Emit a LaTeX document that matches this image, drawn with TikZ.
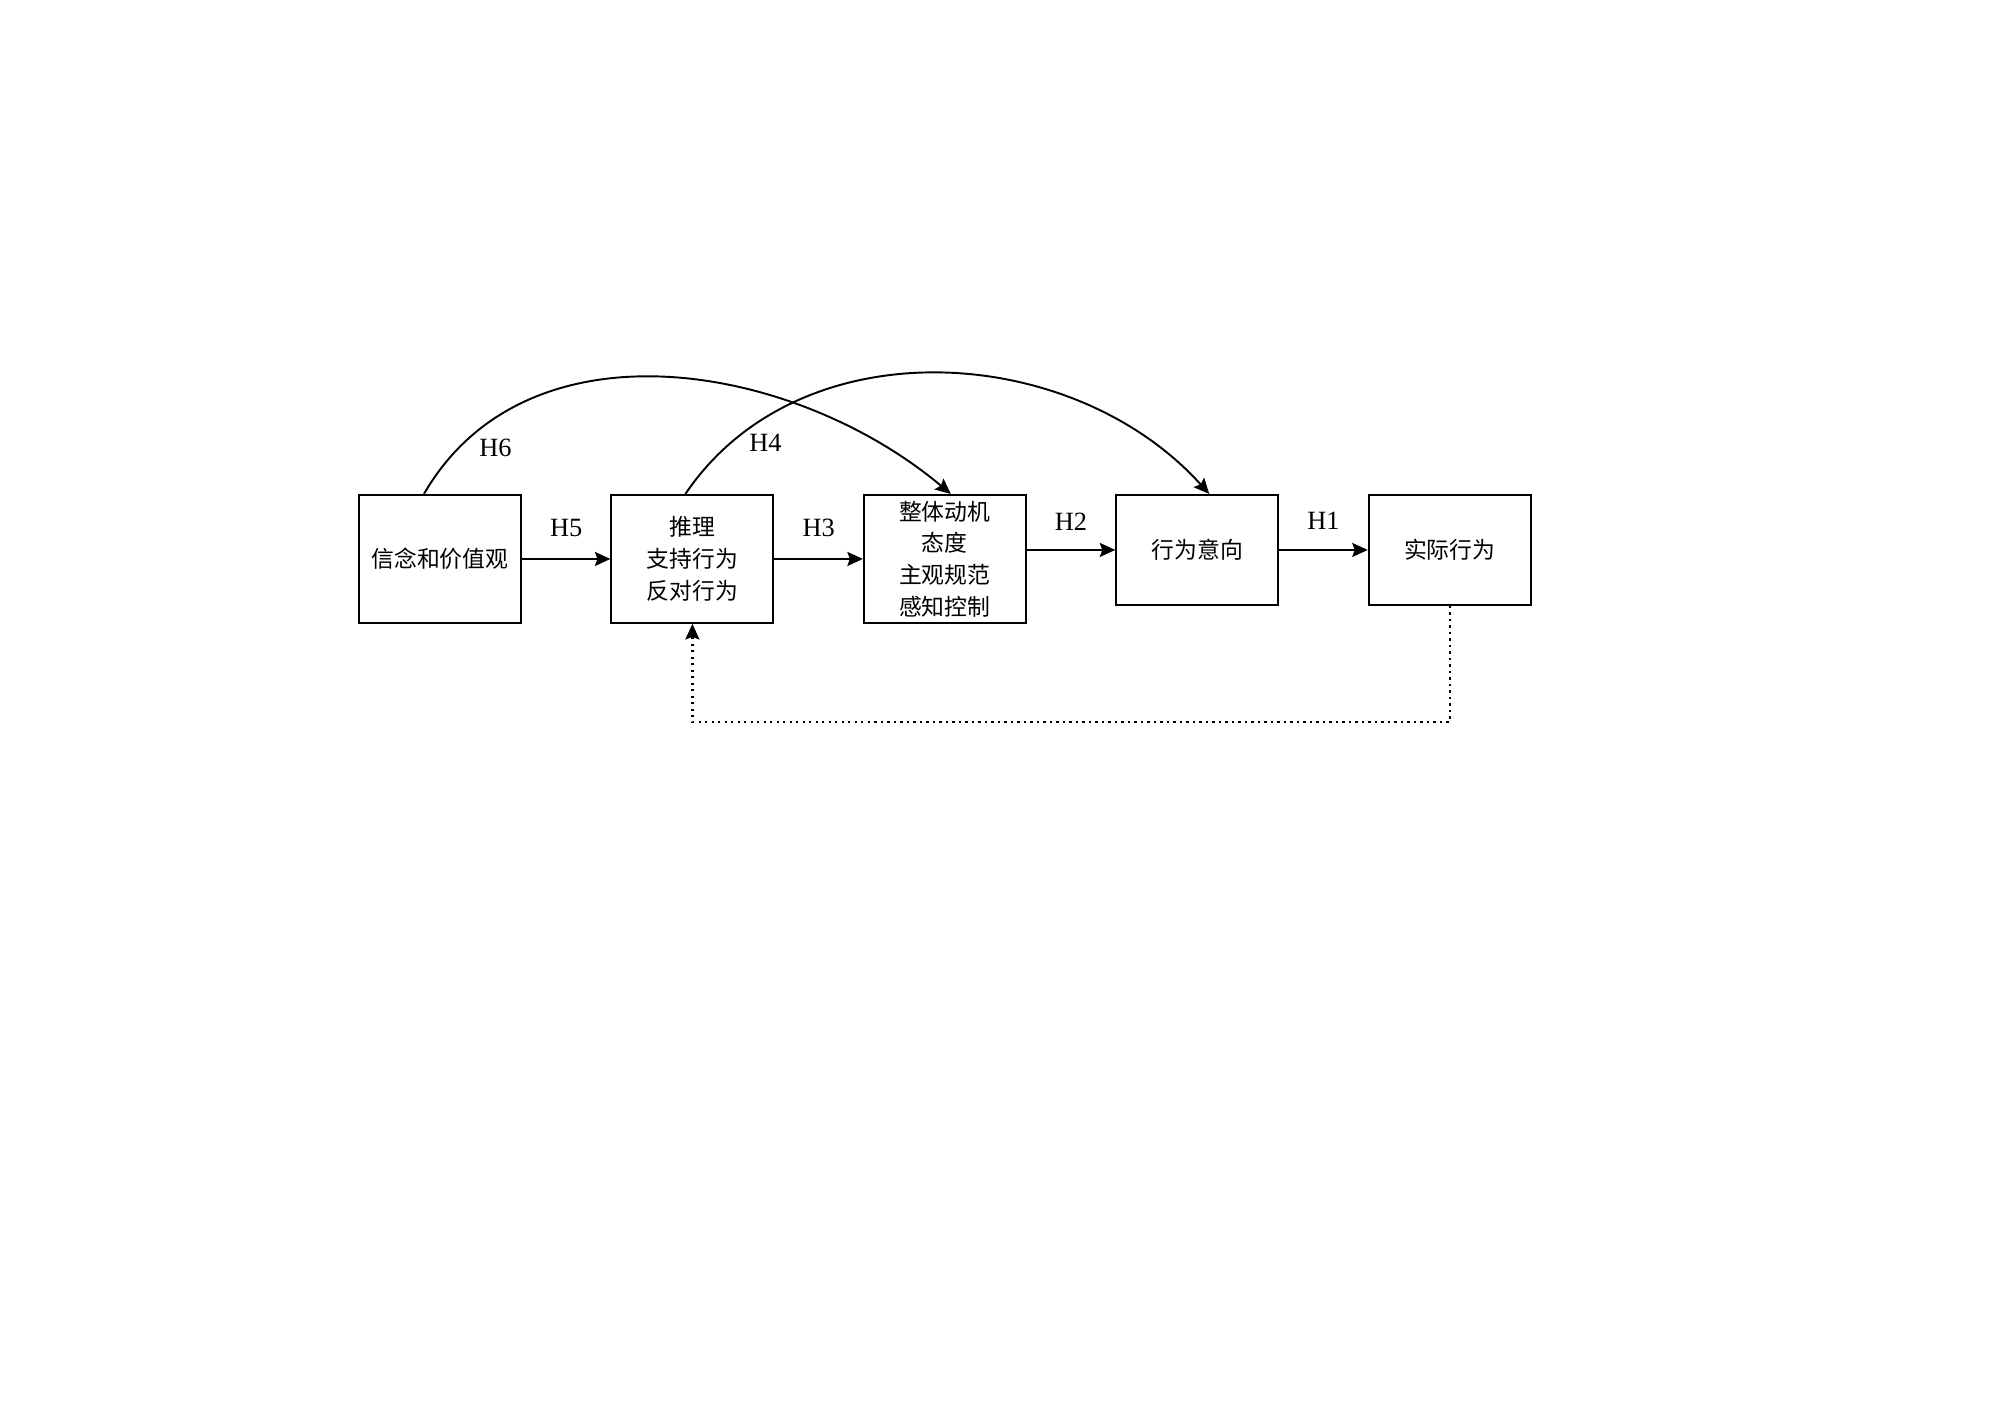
\documentclass[tikz,border=0pt]{standalone}
\usepackage{fontspec}
\setmainfont{Liberation Serif}
\newfontfamily\cjk{Noto Sans CJK SC}
\usepackage{tikz}
\usetikzlibrary{arrows.meta, positioning}

\begin{document}
\begin{tikzpicture}[node distance=1.77cm, font=\fontsize{15}{18}\selectfont]
\tikzstyle{stage} = [rectangle, draw=black, line width=1.1pt, minimum width=3.24cm, minimum height=2.56cm, align=center, inner sep=2pt, font=\cjk\fontsize{13}{18}\selectfont]
\tikzstyle{line} = [draw, -{Stealth[length=3.1mm,width=2.8mm,inset=0.5mm]}, line width=1.1pt, black]
\tikzstyle{feedback} = [line, line width=1.3pt, dash pattern=on 1.3pt off 2.4pt]
\useasboundingbox (0,0) rectangle (40,28.26);

\node (belief) [stage, anchor=north west] at (7.16,18.38) {信念和价值观};
\node (reason) [stage, right=of belief] {推理\\支持行为\\反对行为};
\node (motive) [stage, right=of reason] {整体动机\\态度\\主观规范\\感知控制};
\node (intent) [stage, minimum height=2.2cm, right=of motive.north east, anchor=north west] {行为意向};
\node (action) [stage, minimum height=2.2cm, right=of intent] {实际行为};

\draw [line] (belief) -- node[above=9pt] {H5} (reason);
\draw [line] (reason) -- node[above=9pt] {H3} (motive);
\draw [line] (motive.east |- intent.west) -- node[above=7pt] {H2} (intent.west);
\draw [line] (intent) -- node[above=7.5pt] {H1} (action);
\draw [line] ([xshift=-0.32cm]belief.north) to[out=60,in=140] node[pos=0.14, below right=0pt and -2pt] {H6} ([xshift=0.12cm]motive.north);
\draw [line] ([xshift=-0.14cm]reason.north) to[out=56,in=132] node[pos=0.16, below right=0pt and -5pt] {H4} ([xshift=0.24cm]intent.north);
\draw [feedback] (action.south) -- ++(0,-2.32) -| (reason.south);
\end{tikzpicture}
\end{document}
